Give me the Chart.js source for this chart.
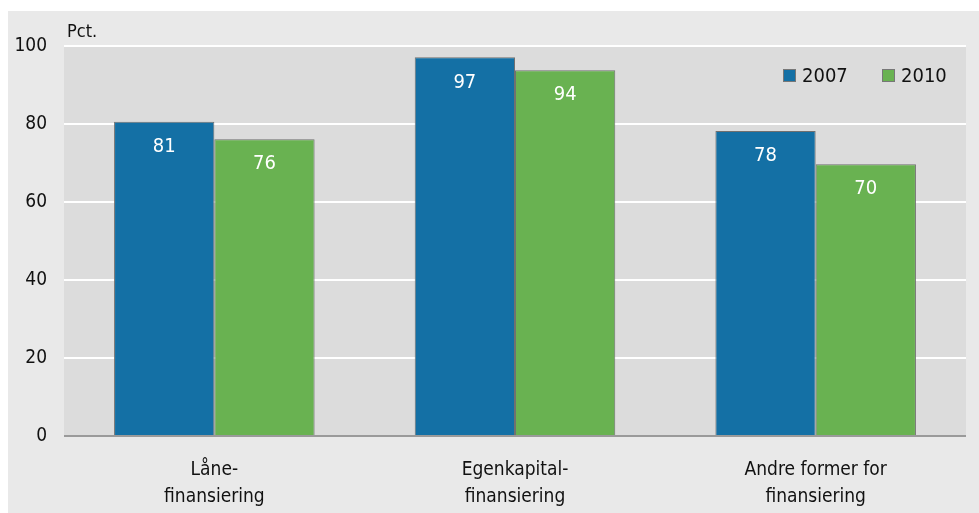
<!DOCTYPE html>
<html>
<head>
<meta charset="utf-8">
<script src="https://cdn.jsdelivr.net/npm/chart.js@4.4.0/dist/chart.umd.min.js"></script>
<style>
html,body{margin:0;padding:0;background:#ffffff;}
#wrap{width:979px;height:513px;position:relative;}
</style>
</head>
<body>
<div id="wrap"><canvas id="c" width="979" height="513"></canvas></div>
<script>
const categories = [["Låne-","finansiering"],["Egenkapital-","finansiering"],["Andre former for","finansiering"]];
const series2007 = [80.6, 97.1, 78.2];
const series2010 = [76.1, 93.8, 69.7];
const labels2007 = ["81","97","78"];
const labels2010 = ["76","94","70"];
const seriesNames = ["2007","2010"];
const yTicks = [0,20,40,60,80,100];

const FONT = "'Liberation Sans Narrow', 'DejaVu Sans Condensed', sans-serif";
const BLUE = '#1470a5';
const GREEN = '#69b251';

const bgPlugin = {
  id: 'bg',
  beforeDraw(chart){
    const ctx = chart.ctx, a = chart.chartArea;
    ctx.save();
    ctx.fillStyle = '#ffffff';
    ctx.fillRect(0,0,chart.width,chart.height);
    ctx.fillStyle = '#e9e9e9';
    ctx.fillRect(8,11,chart.width-8,chart.height-11);
    ctx.fillStyle = '#dcdcdc';
    ctx.fillRect(a.left,a.top,a.right-a.left,a.bottom-a.top);
    ctx.restore();
  },
  afterDraw(chart){
    const ctx = chart.ctx;
    ctx.save();
    ctx.fillStyle = '#111';
    ctx.font = "18px " + FONT;
    ctx.textBaseline = 'alphabetic';
    ctx.textAlign = 'left';
    ctx.fillText('Pct.', 67, 37);
    const items = [[seriesNames[0], BLUE, 783],[seriesNames[1], GREEN, 882]];
    items.forEach(([t,c,x])=>{
      ctx.fillStyle = c;
      ctx.fillRect(x,69,13,13);
      ctx.strokeStyle = '#777';
      ctx.lineWidth = 1;
      ctx.strokeRect(x+0.5,69.5,12,12);
      ctx.fillStyle = '#111';
      ctx.font = "20px " + FONT;
      ctx.fillText(t, x+19, 82);
    });
    ctx.restore();
  },
  afterDatasetsDraw(chart){
    const ctx = chart.ctx;
    ctx.save();
    ctx.fillStyle = '#ffffff';
    ctx.font = "20px " + FONT;
    ctx.textAlign = 'center';
    ctx.textBaseline = 'middle';
    const lbls = [labels2007, labels2010];
    chart.data.datasets.forEach((ds,i)=>{
      chart.getDatasetMeta(i).data.forEach((bar,j)=>{
        ctx.fillText(lbls[i][j], bar.x, bar.y + 25);
      });
    });
    ctx.restore();
  }
};

new Chart(document.getElementById('c'), {
  type: 'bar',
  data: {
    labels: categories,
    datasets: [
      {label: seriesNames[0], data: series2007, backgroundColor: BLUE, borderColor: '#707070', borderWidth: 1},
      {label: seriesNames[1], data: series2010, backgroundColor: GREEN, borderColor: '#707070', borderWidth: 1}
    ]
  },
  options: {
    responsive: false,
    animation: false,
    devicePixelRatio: 1,
    layout: {padding: {left: 0, right: 13, top: 46, bottom: 0}},
    datasets: {bar: {categoryPercentage: 0.667, barPercentage: 1.0}},
    plugins: {legend: {display: false}, tooltip: {enabled: false}},
    scales: {
      x: {
        grid: {display: false},
        border: {display: false},
        ticks: {color: '#111', font: {family: FONT, size: 19, lineHeight: 1.42}, padding: 13, maxRotation: 0, autoSkip: false},
        afterFit(s){ s.height = 77; }
      },
      y: {
        min: 0, max: 100,
        afterBuildTicks(s){ s.ticks = yTicks.map(v=>({value:v})); },
        grid: {
          color: ctx => ctx.tick && ctx.tick.value === 0 ? '#9a9a9a' : '#ffffff',
          lineWidth: 2,
          drawTicks: false
        },
        border: {display: false},
        ticks: {color: '#111', font: {family: FONT, size: 19}, padding: 17},
        afterFit(s){ s.width = 64; }
      }
    }
  },
  plugins: [bgPlugin]
});
</script>
</body>
</html>
